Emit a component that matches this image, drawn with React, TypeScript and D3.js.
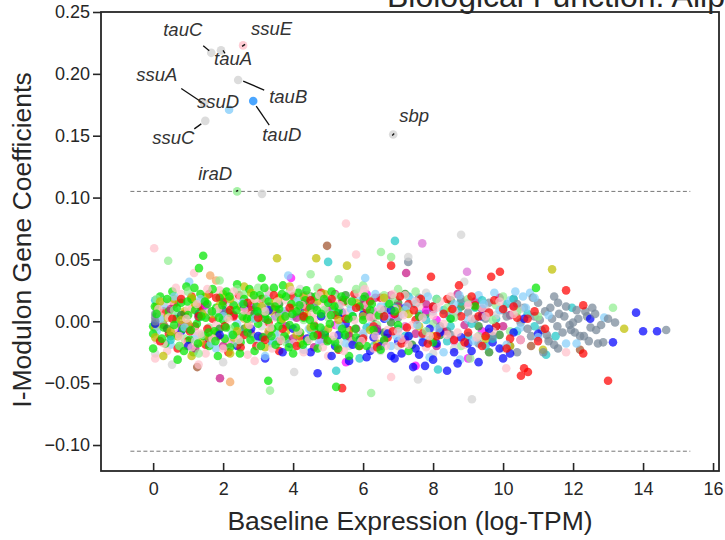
import React, { useEffect, useRef } from "react";
import * as d3 from "d3";

// gene points as "x,y" pairs (baseline log-TPM, coefficient), one string per color
const limeGenes =
  "0,-0.004 0,-0.01 0,-0.022 0.05,0.012 0.2,0.02 0.3,-0.005 0.35,-0.018 0.45,0.008 0.5,-0.012 0.55,0.024 0.65,0.002 0.7,-0.031 0.75,-0.02 0.8,0.015 0.85,-0.006 0.95,0.028 1.0,0.005 1.05,-0.015 1.1,0.018 1.15,-0.025 1.2,0.009 1.25,-0.002 1.31,0.043 1.35,0.022 1.43,0.053 1.45,-0.012 1.5,0.003 1.55,0.014 1.6,-0.02 1.7,0.026 1.75,-0.008 1.8,0.011 1.85,-0.028 1.9,0.019 2.0,0.001 2.05,-0.014 2.1,0.024 2.15,0.007 2.2,-0.021 2.3,0.013 2.35,-0.004 2.4,0.03 2.5,-0.017 2.55,0.004 2.6,0.018 2.7,-0.009 2.75,0.026 2.8,0.002 2.9,-0.024 2.95,0.012 3.0,-0.002 3.05,0.021 3.1,0.035 3.15,-0.013 3.2,0.006 3.29,-0.048 3.3,0.016 3.4,-0.006 3.45,0.027 3.5,-0.019 3.6,0.01 3.65,0.001 3.71,0.029 3.75,-0.012 3.8,0.02 3.9,-0.003 3.95,0.014 4.0,-0.026 4.1,0.008 4.15,0.023 4.2,-0.009 4.3,0.003 4.35,0.017 4.4,-0.016 4.5,0.011 4.6,-0.004 4.65,0.02 4.7,-0.022 4.8,0.006 4.9,-0.011 5.0,0.015 5.05,-0.002 5.1,0.024 5.2,-0.017 5.23,-0.053 5.3,0.008 5.4,-0.006 5.5,0.017 5.6,-0.028 5.7,0.004 5.8,-0.013 5.9,0.012 6.0,0.001 6.1,-0.02 6.2,0.009 6.3,-0.007 6.45,0.005 6.6,-0.015 6.75,0.014 7.0,-0.003 7.3,-0.024 7.6,0.004 8.0,-0.017 8.5,0.002 9.2,0.012 10.94,0.027 " +
  "0.1,0.006 0.25,-0.014 0.4,0.018 0.6,-0.003 0.68,0.011 0.88,-0.024 0.98,0.016 1.08,-0.007 1.18,0.027 1.28,-0.018 1.38,0.004 1.48,0.016 1.58,-0.009 1.68,0.008 1.78,-0.016 1.88,0.003 1.98,0.013 2.08,-0.005 2.18,0.02 2.28,-0.011 2.38,0.009 2.48,-0.026 2.58,0.014 2.68,0.002 2.78,-0.015 2.88,0.021 2.98,0.008 3.08,-0.02 3.18,0.027 3.28,0.001 3.38,-0.012 3.48,0.012 3.58,-0.004 3.68,0.022 3.78,0.004 3.88,-0.021 3.98,0.006 4.08,-0.005 4.18,0.013 4.28,-0.019 4.38,0.025 4.48,0.001 4.58,-0.012 4.68,0.009 4.78,-0.005 4.88,0.018 4.98,-0.016 5.08,0.005 5.18,0.012 5.28,-0.022 5.38,0.02 5.48,-0.011 5.58,0.002 5.68,0.016 5.78,-0.006 5.88,-0.02 6.05,0.02 6.25,0.014 6.5,-0.023 6.9,0.008";
const redGenes =
  "0.3,0.008 0.45,-0.01 0.6,0.014 0.7,-0.022 0.9,0.006 1.0,-0.016 1.1,0.02 1.2,-0.004 1.35,0.012 1.5,-0.019 1.6,0.022 1.7,0.002 1.85,-0.012 2.0,0.016 2.15,-0.025 2.3,0.004 2.45,0.021 2.6,-0.011 2.8,0.009 2.95,-0.02 3.1,0.018 3.3,-0.001 3.5,0.012 3.6,-0.024 3.8,0.006 4.0,0.02 4.2,-0.012 4.4,0.011 4.6,-0.003 4.8,0.023 5.0,-0.015 5.2,0.005 5.4,-0.054 5.45,0.016 5.6,-0.007 5.75,0.022 5.9,-0.02 6.1,0.01 6.3,-0.004 6.5,0.019 6.7,-0.013 6.8,0.045 6.9,0.006 7.1,-0.018 7.3,0.014 7.5,0.001 7.7,-0.01 7.94,0.036 8.0,0.012 8.2,-0.006 8.4,0.018 8.6,-0.015 8.74,0.029 8.8,0.004 9.0,-0.009 9.2,0.013 9.4,-0.02 9.6,0.007 9.66,0.036 9.8,-0.004 9.91,0.04 10.0,0.01 10.2,-0.014 10.4,0.003 10.51,-0.044 10.6,-0.038 10.71,-0.041 10.9,0.008 11.2,-0.006 11.8,0.025 12.29,0.013 12.29,-0.026 13.0,-0.048 " +
  "0.2,-0.016 0.55,0.002 0.8,0.018 1.05,-0.008 1.3,0.004 1.55,-0.006 1.8,0.019 2.05,-0.004 2.2,0.009 2.5,-0.021 2.7,0.015 3.0,0.003 3.2,-0.015 3.45,0.021 3.7,-0.006 3.9,0.011 4.1,-0.02 4.3,0.004 4.5,0.017 4.7,-0.011 5.1,0.018 5.3,-0.023 5.5,0.002 5.8,0.011 6.0,-0.014 6.2,0.016 6.4,-0.021 6.6,0.004 6.85,-0.008 7.05,0.02 7.25,-0.005 7.45,0.009 7.65,0.018 7.85,-0.018 8.1,-0.012 8.3,0.006 8.55,0.01 8.9,-0.017 9.1,0.02 9.3,0.004 9.5,-0.012 9.75,0.017 10.1,-0.022 10.3,0.012 10.7,0.002 11.0,-0.016";
const pinkGenes =
  "0.03,0.059 0.1,-0.015 0.2,0.004 0.4,-0.024 0.5,0.016 0.6,-0.006 0.8,0.022 0.9,-0.018 1.0,0.01 1.17,0.039 1.2,-0.008 1.4,0.019 1.5,-0.026 1.6,0.007 1.8,-0.003 1.9,0.025 2.1,-0.016 2.2,0.012 2.4,-0.007 2.5,0.02 2.7,-0.027 2.8,0.005 3.0,0.015 3.1,-0.012 3.3,0.024 3.4,-0.022 3.5,0.003 3.7,-0.009 3.8,0.017 4.0,-0.018 4.1,0.009 4.3,-0.025 4.4,0.021 4.6,0.002 4.7,-0.013 4.9,0.012 5.0,-0.028 5.2,0.019 5.3,-0.004 5.51,0.079 5.5,0.007 5.7,-0.016 5.8,0.054 5.85,0.023 6.0,-0.01 6.1,0.013 6.3,-0.022 6.4,0.004 6.6,0.018 6.7,-0.007 6.8,-0.045 6.9,0.01 7.1,-0.014 7.2,0.021 7.4,-0.003 7.6,0.012 7.8,-0.021 8.0,0.005 8.2,0.016 8.4,-0.011 8.6,0.008 8.9,-0.019 9.1,0.002 9.4,0.011 9.7,-0.008 10.09,-0.038 10.3,0.006 11.8,-0.025 0.06,-0.03 2.9,-0.032 1.3,-0.035 " +
  "0.15,0.01 0.3,-0.018 0.45,0.003 0.65,0.027 0.75,-0.012 0.95,0.002 1.1,-0.021 1.25,0.014 1.35,-0.01 1.55,0.026 1.7,-0.014 1.85,0.01 2.0,-0.022 2.15,0.002 2.3,0.024 2.45,-0.015 2.6,0.009 2.75,-0.003 2.9,0.018 3.05,-0.02 3.2,0.008 3.35,-0.005 3.55,0.016 3.65,-0.015 3.85,0.004 3.95,0.025 4.15,-0.008 4.25,0.013 4.45,-0.015 4.55,0.006 4.75,0.021 4.85,-0.021 5.05,0.005 5.15,-0.012 5.35,0.013 5.45,-0.024 5.65,0.016 5.75,0.001 5.95,-0.016 6.05,0.026 6.2,0.003 6.35,-0.012 6.5,0.01 6.65,-0.02 6.85,0.022 7.0,-0.008 7.15,0.005 7.3,-0.019 7.5,0.016 7.7,0.003 7.9,-0.012 8.1,0.011 8.3,-0.002 8.5,0.02 8.7,-0.009 9.0,0.013 9.25,-0.013 9.5,0.004 9.9,0.016 10.5,-0.015";
const oliveGenes =
  "0.06,-0.005 0.06,-0.013 0.1,0.012 0.29,-0.028 0.4,0.003 0.6,0.018 0.7,-0.012 0.9,0.008 1.0,-0.002 1.2,0.014 1.35,-0.017 1.5,0.02 1.7,0.006 1.8,-0.009 2.0,0.022 2.1,0.003 2.3,-0.013 2.5,0.012 2.6,0.028 2.7,-0.004 2.9,0.017 3.0,0.002 3.2,-0.021 3.4,0.008 3.54,0.051 3.6,0.019 3.8,-0.008 4.0,0.011 4.2,-0.018 4.4,0.005 4.66,0.051 4.7,0.016 5.0,-0.006 5.2,0.013 5.54,0.045 5.6,-0.01 6.0,0.004 6.4,-0.018 7.0,0.01 7.6,-0.004 8.5,0.008 9.5,-0.014 10.2,-0.02 11.14,-0.023 11.4,0.042 13.46,-0.006 2.2,-0.026 1.1,-0.028 " +
  "0.2,0.016 0.5,-0.008 0.8,0.001 1.1,0.019 1.4,0.006 1.6,-0.013 1.9,0.013 2.2,0.018 2.4,-0.008 2.8,0.023 3.1,0.012 3.3,-0.008 3.5,0.016 3.7,0.002 3.9,0.028 4.1,-0.011 4.3,0.02 4.5,-0.005 4.9,0.022 5.3,0.001 5.8,0.015 6.2,-0.007 6.6,0.019 7.3,0.006 8.0,-0.012";
const skyGenes =
  "0.1,-0.008 0.3,0.013 0.5,-0.019 0.7,0.005 1.03,0.032 1.2,-0.012 1.5,0.009 1.8,-0.022 2.1,0.017 2.4,-0.002 2.7,0.011 3.0,-0.016 3.3,0.021 3.6,-0.01 3.86,0.037 4.0,0.004 4.3,-0.023 4.6,0.014 4.9,-0.007 5.2,0.009 5.5,-0.018 5.8,0.019 6.06,0.035 6.2,-0.004 6.5,0.012 6.8,-0.02 7.1,0.006 7.4,0.017 7.7,-0.012 8.0,0.008 8.3,-0.025 8.6,0.014 8.77,-0.031 9.0,0.001 9.3,0.021 9.6,-0.011 9.9,0.009 10.2,0.017 10.5,-0.005 10.57,0.02 10.77,0.023 11.0,-0.013 11.3,0.005 11.8,-0.018 12.1,-0.018 12.89,0.003 3.2,-0.028 7.9,-0.029 " +
  "0.2,0.002 0.6,0.02 0.9,-0.005 1.35,0.018 1.65,-0.018 2.0,0.004 2.25,-0.011 2.55,0.015 2.9,0.002 3.15,0.011 3.45,-0.016 3.75,0.008 4.15,0.018 4.45,-0.006 4.75,-0.017 5.05,0.016 5.35,-0.004 5.65,0.01 6.0,-0.01 6.35,0.022 6.65,0.003 6.95,-0.012 7.25,0.012 7.55,-0.003 7.85,0.02 8.15,-0.006 8.45,0.004 8.75,0.021 9.15,-0.016 9.45,0.014 9.75,0.023 10.1,-0.019 10.35,0.024 10.65,0.011 10.9,0.019";
const blueGenes =
  "0.06,-0.002 0.8,-0.008 1.3,0.006 1.6,-0.014 2.0,0.009 2.4,-0.02 2.8,-0.006 3.2,-0.03 3.5,0.004 3.9,-0.018 4.2,0.012 4.5,-0.025 4.7,-0.042 4.9,-0.009 5.2,-0.02 5.4,0.007 5.6,-0.032 5.9,-0.015 6.0,0.005 6.2,-0.024 6.4,-0.008 6.6,0.002 6.8,-0.028 7.0,-0.016 7.2,0.011 7.43,-0.037 7.5,-0.022 7.77,-0.036 7.9,-0.006 8.1,-0.018 8.4,-0.04 8.5,0.003 8.8,-0.013 9.1,-0.024 9.4,0.004 9.7,-0.017 10.0,-0.03 10.3,-0.009 10.6,0.002 11.0,-0.01 12.49,0.002 13.14,-0.017 13.8,0.007 14.0,-0.008 14.4,-0.008 7.6,-0.027 6.9,-0.03 " +
  "1.0,-0.02 1.9,-0.011 2.6,0.013 3.0,-0.012 3.3,0.009 3.7,-0.025 4.0,-0.006 4.4,-0.014 4.8,0.004 5.1,-0.028 5.3,-0.011 5.5,-0.002 5.7,-0.019 6.1,-0.029 6.3,-0.013 6.5,-0.02 6.7,-0.01 7.1,-0.026 7.3,-0.012 7.7,-0.017 8.0,-0.031 8.2,-0.009 8.6,-0.025 9.0,-0.018 9.3,-0.033 9.6,-0.006 9.9,-0.022 10.2,-0.026 6.8,0.009 8.7,-0.034";
const slateGenes =
  "0.06,0.006 0.06,0.003 1.0,-0.006 3.5,0.01 6.0,-0.012 7.29,0.048 7.0,0.003 8.0,0.012 8.5,-0.011 9.0,0.007 9.3,-0.018 9.6,0.015 9.8,-0.004 10.0,0.009 10.2,-0.02 10.3,0.018 10.5,-0.001 10.6,0.011 10.8,-0.012 10.9,0.004 11.0,0.015 11.1,-0.007 11.2,0.008 11.3,-0.016 11.4,0.002 11.46,0.02 11.46,-0.019 11.57,0.015 11.57,-0.022 11.6,0.006 11.7,-0.009 11.8,0.012 11.9,-0.003 11.94,-0.007 12.0,-0.001 12.1,0.009 12.2,-0.012 12.31,-0.012 12.4,0.004 12.5,-0.005 12.63,0.006 12.66,-0.007 12.71,-0.018 12.86,-0.017 13.2,-0.001 14.66,-0.007 10.4,-0.025 11.15,-0.025 9.5,0.002 " +
  "0.06,0.0 2.0,0.008 4.6,0.011 6.6,0.009 7.6,0.019 8.2,-0.004 8.8,0.018 9.2,0.002 9.7,-0.012 10.1,0.004 10.4,0.014 10.7,-0.006 10.85,0.019 11.05,0.001 11.25,-0.011 11.35,0.011 11.55,-0.004 11.75,0.004 12.05,-0.009 12.15,0.002 12.35,0.008 12.45,-0.016 12.55,0.011 12.8,-0.003 13.0,0.002";
const cyanGenes =
  "0.06,0.017 1.3,0.003 2.5,-0.01 3.4,-0.018 4.1,0.007 5.0,0.048 5.23,-0.04 5.5,-0.012 6.0,0.01 6.3,-0.02 6.7,0.015 6.91,0.065 7.0,-0.006 7.3,0.02 7.6,0.006 7.9,-0.015 8.14,-0.039 8.3,0.009 8.5,-0.004 8.8,0.016 9.0,-0.012 9.2,0.011 9.5,-0.02 9.8,0.002 10.1,0.014 10.4,-0.008 10.7,0.006 11.23,-0.027 11.5,-0.012 11.97,0.011 5.9,-0.03 " +
  "0.5,-0.015 1.8,0.007 3.0,0.006 4.5,-0.007 5.3,0.012 5.7,0.004 6.1,-0.005 6.5,0.006 6.9,0.011 7.2,-0.012 7.5,0.014 7.8,0.001 8.1,0.018 8.4,-0.016 8.7,0.008 9.1,-0.002 9.4,0.017 9.7,-0.014 10.3,0.018 10.9,-0.004";
const violetGenes =
  "0.8,-0.003 1.5,-0.012 1.91,-0.046 2.3,0.005 2.8,-0.01 3.3,0.012 3.8,-0.004 4.3,0.016 4.6,-0.021 5.0,0.009 5.4,0.017 5.8,-0.006 6.2,0.004 6.6,-0.016 7.0,0.012 7.23,0.039 7.5,-0.01 7.8,0.014 8.1,-0.02 8.5,0.005 8.9,-0.003 9.2,0.016 9.6,-0.009 9.9,0.019 10.2,0.005 10.5,-0.015 6.35,0.019 4.0,-0.014 " +
  "0.5,0.01 1.2,-0.022 2.0,-0.02 2.6,0.011 3.1,-0.013 3.6,0.006 4.1,0.003 4.8,-0.011 5.2,0.022 5.6,-0.012 6.0,0.013 6.4,-0.006 6.8,0.021 7.2,-0.015 7.6,0.004 8.0,0.01 8.3,-0.008 8.7,0.022 9.4,0.01 10.0,-0.004";
const magentaGenes =
  "0.7,-0.01 1.0,-0.004 3.94,0.035 4.3,0.021 5.2,-0.003 5.51,-0.033 6.1,0.022 6.8,0.004 7.5,-0.036 8.1,0.001 9.4,-0.008 2.9,0.013 1.5,0.013 3.3,-0.01 4.8,-0.016 7.8,0.009 9.0,-0.03";
const paleGreenGenes =
  "0.43,0.049 0.3,0.002 0.9,-0.014 1.2,0.015 1.6,-0.005 2.0,0.02 2.4,-0.018 2.8,0.013 3.34,-0.056 3.0,0.027 3.5,-0.009 3.9,0.024 4.3,0.001 4.7,0.027 5.0,0.003 5.3,0.034 5.6,0.014 6.0,0.029 6.23,-0.058 6.4,-0.003 6.51,0.056 6.8,0.052 7.0,0.026 7.3,-0.012 7.6,0.016 8.0,-0.002 8.4,0.011 8.8,-0.02 9.06,-0.03 9.4,0.006 9.8,0.013 10.2,-0.008 13.14,0.011 1.9,0.033 4.5,0.038 " +
  "0.1,0.018 0.6,0.009 0.75,-0.02 1.0,0.024 1.4,-0.011 1.8,0.007 2.2,-0.006 2.6,0.022 2.9,-0.013 3.2,0.018 3.6,0.004 3.8,-0.017 4.1,0.016 4.6,-0.01 4.9,0.009 5.2,0.021 5.5,-0.006 5.8,0.026 6.2,0.017 6.6,0.021 6.9,0.019 7.2,0.009 7.5,0.024 7.8,-0.008 8.1,0.018 8.6,0.003 9.0,0.018 9.3,-0.012 9.7,0.001 10.0,0.02 10.4,0.008 11.0,0.004 2.4,0.026 1.3,-0.026 5.1,-0.015";
const forestGenes =
  "1.4,0.011 2.6,-0.006 3.2,0.002 3.8,-0.014 4.2,0.008 4.5,0.02 4.9,-0.01 5.3,0.006 5.7,-0.016 6.0,0.018 6.3,0.003 6.6,-0.009 7.0,0.015 7.4,-0.019 7.8,0.006 8.2,-0.011 8.8,0.012 9.3,-0.004 9.6,-0.025 0.8,0.005 " +
  "0.4,-0.006 1.9,-0.006 2.9,0.006 3.6,0.014 4.6,-0.007 5.5,0.021 6.8,-0.001 7.2,0.022 8.5,0.017 9.9,-0.011";
const greyGenes =
  "0.06,-0.026 0.54,-0.035 0.8,0.017 1.5,0.005 2.5,-0.014 3.4,0.011 4.03,-0.041 4.5,-0.012 5.0,0.015 5.6,-0.02 6.2,0.007 6.8,0.014 7.29,0.052 7.57,-0.047 8.0,-0.026 8.8,0.07 8.89,0.032 9.11,-0.063 9.5,0.01 10.0,-0.022 11.3,-0.014 3.9,0.022 2.0,-0.033 6.5,-0.024 " +
  "0.3,0.016 1.2,-0.016 2.3,0.016 3.1,-0.004 4.2,0.026 5.3,-0.017 6.0,0.025 7.0,-0.02 7.8,0.023 8.6,-0.022 9.8,0.005 10.5,0.01";
const brownGenes = "0.3,-0.003 1.26,-0.037 2.7,0.008 4.97,0.061 3.6,-0.016 7.0,0.007 8.4,-0.008 12.2,-0.023 10.8,-0.02";
const sandGenes = "1.63,0.037 1.8,0.033 2.2,-0.049 2.6,0.002 3.1,0.018 1.1,0.01 0.9,-0.02 4.4,0.004";
const orchidGenes = "2.2,-0.018 4.9,0.018 7.69,0.063 8.97,0.04 7.2,-0.004 9.0,0.015 10.3,0.012 3.4,-0.006 6.3,0.008 8.6,-0.016";

const groupColors = [
  "#00e600", "red", "pink", "#bfbf00", "lightskyblue", "blue", "lightslategray", "#20c8c8",
  "mediumvioletred", "magenta", "lightgreen", "forestgreen", "lightgray", "sienna", "sandybrown", "orchid",
];
const groupData = [
  limeGenes, redGenes, pinkGenes, oliveGenes, skyGenes, blueGenes, slateGenes, cyanGenes,
  violetGenes, magentaGenes, paleGreenGenes, forestGenes, greyGenes, brownGenes, sandGenes, orchidGenes,
];

// highlighted genes
const geneNames = ["tauC", "tauA", "ssuE", "ssuA", "ssuD", "tauB", "tauD", "ssuC", "sbp", "iraD", ""];
const geneX = [1.66, 1.94, 2.57, 1.46, 2.17, 2.43, 2.86, 1.49, 6.86, 2.4, 3.11];
const geneY = [0.217, 0.219, 0.223, 0.176, 0.171, 0.195, 0.178, 0.162, 0.151, 0.105, 0.103];
const geneColors = ["lightgray", "lightgray", "pink", "lightgray", "lightskyblue", "lightgray", "dodgerblue", "lightgray", "lightgray", "lightgreen", "lightgray"];
// label offsets in px: [text dx, text dy, line x1, y1, x2, y2]
const labelOffsets = [
  [-48, -17, -8, -7, -2, -2],
  [-7, 15, 2, 0, 4, 3],
  [8, -10, -1, 1, 2, -1],
  [-68, -23, -23, -15, -2, -1],
  [-32, -2, 0, 0, 0, 0],
  [31, 23, 5, 1, 26, 10],
  [9, 40, 3, 5, 16, 24],
  [-53, 23, -11, 8, -4, 3],
  [6, -12, -1, 1, 1, -1],
  [-39, -11, -1, 0, 1, -1],
  [0, 0, 0, 0, 0, 0],
];

const xTicks = [0, 2, 4, 6, 8, 10, 12, 14, 16];
const yTicks = [-0.1, -0.05, 0, 0.05, 0.1, 0.15, 0.2, 0.25];
const threshold = 0.105;

const FONT = "'Liberation Sans', Arial, Helvetica, sans-serif";

const App = () => {
  const ref = useRef<SVGSVGElement>(null);

  useEffect(() => {
    const svg = d3.select(ref.current);
    svg.selectAll("*").remove();

    const left = 101, right = 719, top = 12, bottom = 471;
    const x = d3.scaleLinear().domain([-1.49, 16.17]).range([left, right]);
    const y = d3.scaleLinear().domain([-0.121, 0.25]).range([bottom, top]);

    const groups = groupData.map((s) =>
      s.trim().split(/\s+/).map((p) => p.split(",").map(Number))
    );
    // interleave colors so no group sits fully on top
    const points: { x: number; y: number; c: string }[] = [];
    const maxLen = d3.max(groups, (g) => g.length) || 0;
    for (let i = 0; i < maxLen; i++) {
      groups.forEach((g, gi) => {
        if (g[i]) points.push({ x: g[i][0], y: g[i][1], c: groupColors[gi] });
      });
    }

    svg
      .append("g")
      .selectAll("circle")
      .data(points)
      .join("circle")
      .attr("cx", (d) => x(d.x))
      .attr("cy", (d) => y(d.y))
      .attr("r", 4.3)
      .attr("fill", (d) => d.c)
      .attr("fill-opacity", 0.72);

    // threshold lines
    [threshold, -threshold].forEach((t) => {
      svg
        .append("line")
        .attr("x1", x(-0.65))
        .attr("x2", x(15.35))
        .attr("y1", y(t))
        .attr("y2", y(t))
        .attr("stroke", "#777")
        .attr("stroke-width", 1)
        .attr("stroke-dasharray", "4,2.5");
    });

    // highlighted genes + labels
    const ann = svg.append("g");
    geneNames.forEach((name, i) => {
      const px = x(geneX[i]);
      const py = y(geneY[i]);
      ann
        .append("circle")
        .attr("cx", px)
        .attr("cy", py)
        .attr("r", 4.3)
        .attr("fill", geneColors[i])
        .attr("fill-opacity", 0.8);
      if (!name) return;
      const o = labelOffsets[i];
      if (o[2] !== o[4] || o[3] !== o[5]) {
        ann
          .append("line")
          .attr("x1", px + o[2])
          .attr("y1", py + o[3])
          .attr("x2", px + o[4])
          .attr("y2", py + o[5])
          .attr("stroke", "#111")
          .attr("stroke-width", 1.3);
      }
      ann
        .append("text")
        .attr("x", px + o[0])
        .attr("y", py + o[1])
        .attr("font-family", FONT)
        .attr("font-style", "italic")
        .attr("font-size", 18.5)
        .attr("fill", "#333")
        .text(name);
    });

    // axes
    const yAxis = svg
      .append("g")
      .attr("transform", `translate(${left},0)`)
      .call(
        d3.axisLeft(y).tickValues(yTicks).tickSize(8).tickPadding(3).tickFormat(d3.format(".2f"))
      );
    const xAxis = svg
      .append("g")
      .attr("transform", `translate(0,${bottom})`)
      .call(d3.axisBottom(x).tickValues(xTicks).tickSizeInner(-8).tickSizeOuter(0).tickPadding(11));

    [xAxis, yAxis].forEach((a) => {
      a.select(".domain").remove();
      a.selectAll("line").attr("stroke", "#262626").attr("stroke-width", 1.6);
      a.selectAll("text").attr("font-family", FONT).attr("font-size", 18).attr("fill", "#262626");
    });

    svg
      .append("rect")
      .attr("x", left)
      .attr("y", top)
      .attr("width", right - left)
      .attr("height", bottom - top)
      .attr("fill", "none")
      .attr("stroke", "#262626")
      .attr("stroke-width", 1.8);

    svg
      .append("text")
      .attr("x", (left + right) / 2)
      .attr("y", 530)
      .attr("text-anchor", "middle")
      .attr("font-family", FONT)
      .attr("font-size", 26.5)
      .attr("fill", "#262626")
      .text("Baseline Expression (log-TPM)");

    svg
      .append("text")
      .attr("transform", `translate(31,240) rotate(-90)`)
      .attr("text-anchor", "middle")
      .attr("font-family", FONT)
      .attr("font-size", 26.5)
      .attr("fill", "#262626")
      .text("I-Modulon Gene Coefficients");

    // title sits partly outside the frame, as in the source figure
    svg
      .append("text")
      .attr("x", 387)
      .attr("y", 7)
      .attr("font-family", FONT)
      .attr("font-size", 32)
      .attr("fill", "#262626")
      .text("Biological Function: Aliphatic Sulfonates");
  }, []);

  return (
    <svg
      ref={ref}
      width={725}
      height={540}
      style={{ position: "absolute", left: 0, top: 0, background: "#fff" }}
    />
  );
};

export default App;
